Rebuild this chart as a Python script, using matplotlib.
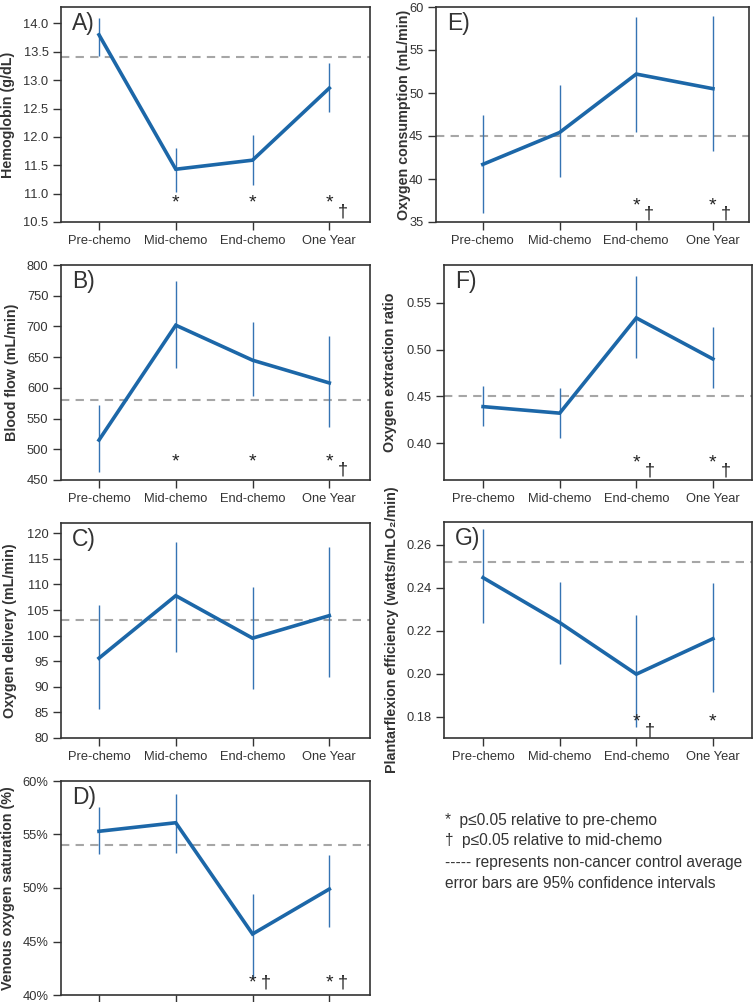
import matplotlib
matplotlib.use("Agg")
import matplotlib.pyplot as plt
import numpy as np

plt.rcParams['font.family'] = ['Liberation Sans', 'DejaVu Sans']

timepoints = ["Pre-chemo", "Mid-chemo", "End-chemo", "One Year"]

# Panel A: Hemoglobin
hb_mean = [13.80, 11.43, 11.59, 12.86]
hb_low = [13.43, 11.03, 11.16, 12.44]
hb_high = [14.09, 11.81, 12.03, 13.30]
hb_ctrl = 13.40
hb_sig = ["", "*", "*", "*†"]

# Panel B: Blood flow
bf_mean = [515, 702, 645, 608]
bf_low = [463, 633, 587, 537]
bf_high = [572, 774, 707, 685]
bf_ctrl = 581
bf_sig = ["", "*", "*", "*†"]

# Panel C: Oxygen delivery
do_mean = [95.6, 107.8, 99.5, 103.9]
do_low = [85.7, 96.8, 89.6, 91.9]
do_high = [105.9, 118.2, 109.4, 117.3]
do_ctrl = 103.0
do_sig = ["", "", "", ""]

# Panel D: Venous oxygen saturation (%)
sv_mean = [55.3, 56.1, 45.7, 49.9]
sv_low = [53.2, 53.3, 41.6, 46.4]
sv_high = [57.6, 58.8, 49.4, 53.1]
sv_ctrl = 54.0
sv_sig = ["", "", "*†", "*†"]

# Panel E: Oxygen consumption
vo_mean = [41.7, 45.4, 52.2, 50.5]
vo_low = [36.05, 40.2, 45.5, 43.3]
vo_high = [47.4, 50.9, 58.8, 59.0]
vo_ctrl = 45.0
vo_sig = ["", "", "*†", "*†"]

# Panel F: Oxygen extraction ratio
oe_mean = [0.439, 0.432, 0.534, 0.490]
oe_low = [0.418, 0.405, 0.491, 0.459]
oe_high = [0.461, 0.459, 0.579, 0.524]
oe_ctrl = 0.450
oe_sig = ["", "", "*†", "*†"]

# Panel G: Plantarflexion efficiency
pe_mean = [0.2448, 0.2239, 0.1999, 0.2164]
pe_low = [0.2236, 0.2046, 0.1752, 0.1916]
pe_high = [0.2674, 0.2430, 0.2272, 0.2422]
pe_ctrl = 0.2523
pe_sig = ["", "", "*†", "*"]

legend_lines = ["*  p\u22640.05 relative to pre-chemo",
                "\u2020  p\u22640.05 relative to mid-chemo",
                "----- represents non-cancer control average",
                "error bars are 95% confidence intervals"]

W, H = 754, 1002
fig = plt.figure(figsize=(W / 100, H / 100), dpi=100)

LINE_C = "#1c67a8"
ERR_C = "#3573b3"
CTRL_C = "#a6a6a6"
TXT_C = "#333333"


def rect(l, r, t, b):
    return [l / W, 1 - b / H, (r - l) / W, (b - t) / H]


panels = [
    dict(letter="A)", mean=hb_mean, low=hb_low, high=hb_high, ctrl=hb_ctrl, sig=hb_sig,
         rect=rect(61, 370, 7, 222), ylim=(10.5, 14.29), yticks=np.arange(10.5, 14.01, 0.5),
         fmt="{:.1f}", ylabel="Hemoglobin (g/dL)", xlim=(-0.495, 3.53), lab=-0.149,
         stary=0.088, dagy=0.047, xlabels=True),
    dict(letter="B)", mean=bf_mean, low=bf_low, high=bf_high, ctrl=bf_ctrl, sig=bf_sig,
         rect=rect(61, 370, 265, 480), ylim=(450, 800), yticks=np.arange(450, 801, 50),
         fmt="{:.0f}", ylabel="Blood flow (mL/min)", xlim=(-0.495, 3.53), lab=-0.136,
         stary=0.084, dagy=0.047, xlabels=True),
    dict(letter="C)", mean=do_mean, low=do_low, high=do_high, ctrl=do_ctrl, sig=do_sig,
         rect=rect(61, 370, 523, 738), ylim=(80, 122), yticks=np.arange(80, 121, 5),
         fmt="{:.0f}", ylabel="Oxygen delivery (mL/min)", xlim=(-0.495, 3.53), lab=-0.142,
         stary=0.08, dagy=0.045, xlabels=True),
    dict(letter="D)", mean=sv_mean, low=sv_low, high=sv_high, ctrl=sv_ctrl, sig=sv_sig,
         rect=rect(61, 370, 781, 995), ylim=(40, 60), yticks=np.arange(40, 61, 5),
         fmt="{:.0f}%", ylabel="Venous oxygen saturation (%)", xlim=(-0.495, 3.53), lab=-0.149,
         stary=0.056, dagy=0.056, xlabels=False),
    dict(letter="E)", mean=vo_mean, low=vo_low, high=vo_high, ctrl=vo_ctrl, sig=vo_sig,
         rect=rect(436, 749, 7, 222), ylim=(35, 60), yticks=np.arange(35, 61, 5),
         fmt="{:.0f}", ylabel="Oxygen consumption (mL/min)", xlim=(-0.61, 3.47), lab=-0.080,
         stary=0.074, dagy=0.037, xlabels=True),
    dict(letter="F)", mean=oe_mean, low=oe_low, high=oe_high, ctrl=oe_ctrl, sig=oe_sig,
         rect=rect(444, 752, 265, 480), ylim=(0.3604, 0.5907), yticks=np.arange(0.40, 0.551, 0.05),
         fmt="{:.2f}", ylabel="Oxygen extraction ratio", xlim=(-0.51, 3.51), lab=-0.153,
         stary=0.079, dagy=0.042, xlabels=True),
    dict(letter="G)", mean=pe_mean, low=pe_low, high=pe_high, ctrl=pe_ctrl, sig=pe_sig,
         rect=rect(444, 752, 522, 738), ylim=(0.1702, 0.2707), yticks=np.arange(0.18, 0.2601, 0.02),
         fmt="{:.2f}", ylabel="Plantarflexion efficiency (watts/mLO\u2082/min)", xlim=(-0.51, 3.51),
         lab=-0.146, stary=0.074, dagy=0.033, xlabels=True),
]

x = np.arange(len(timepoints))

for p in panels:
    ax = fig.add_axes(p["rect"])
    mean = np.array(p["mean"])
    low = np.array(p["low"])
    high = np.array(p["high"])
    ax.axhline(p["ctrl"], color=CTRL_C, lw=1.5, dashes=(4, 3), zorder=1)
    ax.vlines(x, low, high, color=ERR_C, lw=1.0, zorder=2)
    ax.plot(x, mean, color=LINE_C, lw=2.6, solid_joinstyle="miter", zorder=3)
    ax.set_xlim(*p["xlim"])
    ax.set_ylim(*p["ylim"])
    ax.set_xticks(x)
    if p["xlabels"]:
        ax.set_xticklabels(timepoints)
    else:
        ax.set_xticklabels([])
    ax.set_yticks(p["yticks"])
    ax.set_yticklabels([p["fmt"].format(v) for v in p["yticks"]])
    ax.tick_params(axis="both", direction="out", length=6, width=1.0, color=TXT_C,
                   labelcolor=TXT_C, labelsize=9.3, pad=3)
    ax.tick_params(top=False, right=False)
    for s in ax.spines.values():
        s.set_color(TXT_C)
        s.set_linewidth(1.2)
    ax.set_ylabel(p["ylabel"], fontsize=10.3, fontweight="bold", color=TXT_C)
    ax.yaxis.set_label_coords(p["lab"], 0.5)
    ax.text(0.035, 0.975, p["letter"], transform=ax.transAxes, fontsize=16.5,
            va="top", ha="left", color=TXT_C)
    trans = ax.get_xaxis_transform()
    for i, s in enumerate(p["sig"]):
        if "*" in s:
            ax.text(i, p["stary"], "*", transform=trans, ha="center", va="center",
                    fontsize=14, color="#222222")
        if "\u2020" in s:
            ax.text(i + 0.17, p["dagy"], "\u2020", transform=trans, ha="center", va="center",
                    fontsize=13, color="#222222")

for k, line in enumerate(legend_lines):
    fig.text(445 / W, 1 - (820 + 21 * k) / H, line, fontsize=11.2, color=TXT_C,
             ha="left", va="center")

fig.savefig("out.png", dpi=100)
